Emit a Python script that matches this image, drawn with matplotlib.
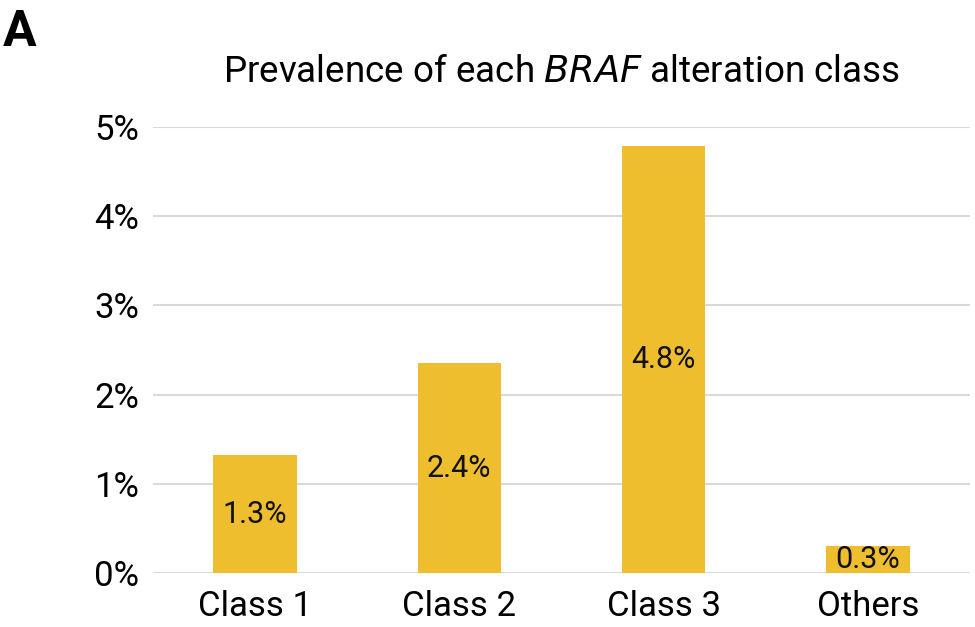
import matplotlib
matplotlib.use('agg')
import matplotlib.pyplot as plt

categories = ['Class 1', 'Class 2', 'Class 3', 'Others']
prevalence = [1.32, 2.35, 4.79, 0.30]
bar_labels = ['1.3%', '2.4%', '4.8%', '0.3%']
yticks = [0, 1, 2, 3, 4, 5]

plt.rcParams['font.family'] = ['Roboto', 'DejaVu Sans']

fig = plt.figure(figsize=(9.75, 6.27), dpi=100)
ax = fig.add_axes([153 / 975, 1 - 573 / 627, (970 - 153) / 975, (573 - 127) / 627])

x = range(len(categories))
bars = ax.bar(x, prevalence, width=0.41, color='#EFBE2E', zorder=3)
for b, lab in zip(bars, bar_labels):
    ax.text(b.get_x() + b.get_width() / 2, b.get_height() / 2, lab,
            ha='center', va='center', fontsize=22, color='#111111', zorder=4)

ax.set_xlim(-0.5, 3.5)
ax.set_ylim(0, 5)
ax.set_yticks(yticks)
ax.set_yticklabels([f'{t}%' for t in yticks], fontsize=25)
ax.set_xticks(list(x))
ax.set_xticklabels(categories, fontsize=25)
ax.yaxis.grid(True, color='#d9d9d9', linewidth=1.5, zorder=0)
ax.tick_params(length=0)
ax.tick_params(axis='y', pad=10)
ax.tick_params(axis='x', pad=12)
for s in ax.spines.values():
    s.set_visible(False)

fig.text(562 / 975, 1 - 72 / 627, 'Prevalence of each $\\mathit{BRAF}$ alteration class',
         ha='center', va='center', fontsize=26.5)
fig.text(0.003, 1 - 32 / 627, 'A', fontsize=36, fontweight='bold', ha='left', va='center')

plt.savefig('out.png')
plt.close()
